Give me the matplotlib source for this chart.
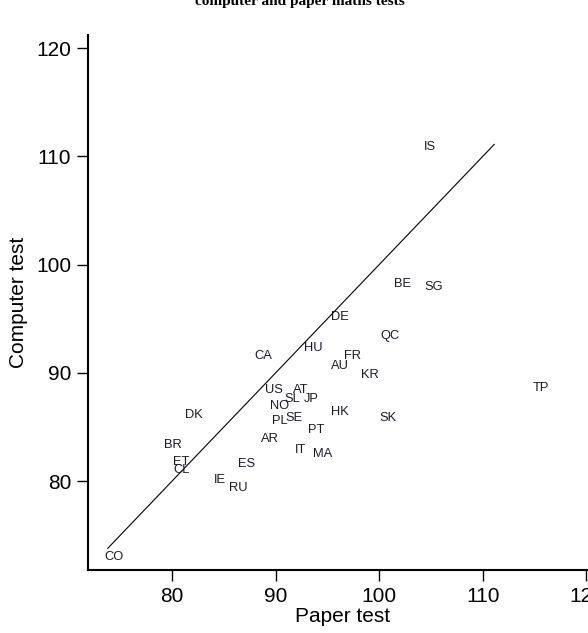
import matplotlib
matplotlib.use("Agg")
import matplotlib.pyplot as plt

# Country codes with paper-test (x) and computer-test (y) scores
countries = ["IS", "BE", "SG", "DE", "QC", "CA", "HU", "FR", "AU", "KR",
             "TP", "US", "AT", "SL", "JP", "NO", "DK", "HK", "SK", "PL",
             "SE", "PT", "AR", "BR", "IT", "MA", "ET", "ES", "CL", "IE",
             "RU", "CO"]
paper = [104.9, 102.2, 105.3, 96.2, 101.0, 88.8, 93.6, 97.4, 96.2, 99.1,
         115.6, 89.8, 92.4, 91.6, 93.4, 90.4, 82.1, 96.2, 100.8, 90.4,
         91.8, 93.9, 89.5, 80.1, 92.4, 94.5, 80.9, 87.2, 80.9, 84.6,
         86.4, 74.4]
computer = [110.9, 98.2, 97.9, 95.2, 93.4, 91.6, 92.3, 91.6, 90.6, 89.8,
            88.6, 88.4, 88.4, 87.6, 87.6, 86.9, 86.1, 86.4, 85.8, 85.6,
            85.8, 84.7, 83.9, 83.3, 82.9, 82.5, 81.8, 81.6, 81.0, 80.1,
            79.4, 73.0]

# 45-degree reference line
line_range = [73.8, 111.1]

x_ticks = [80, 90, 100, 110, 120]
y_ticks = [80, 90, 100, 110, 120]

fig = plt.figure(figsize=(5.88, 6.33), dpi=100)
ax = fig.add_axes([0.1497, 0.0995, 0.8653, 0.8452])

ax.plot(line_range, line_range, color="black", linewidth=0.8)

for name, x, y in zip(countries, paper, computer):
    ax.text(x, y, name, ha="center", va="center", fontsize=9.3,
            family="Liberation Sans", color="#1c1a24")

ax.set_xlim(71.9, 121.0)
ax.set_ylim(71.8, 121.2)
ax.set_xticks(x_ticks)
ax.set_yticks(y_ticks)
ax.tick_params(axis="both", direction="out", length=8, width=1.0,
               labelsize=15, pad=4)
for lab in ax.get_xticklabels() + ax.get_yticklabels():
    lab.set_family("Liberation Sans")

for side in ["top", "right"]:
    ax.spines[side].set_visible(False)
for side in ["left", "bottom"]:
    ax.spines[side].set_linewidth(1.5)

ax.set_xlabel("Paper test", fontsize=15, family="Liberation Sans", labelpad=1)
ax.set_ylabel("Computer test", fontsize=15, family="Liberation Sans", labelpad=6)

fig.text(0.51, 0.997, "computer and paper maths tests", ha="center",
         va="center", fontsize=11, fontweight="bold", family="Liberation Serif")

fig.savefig("out.png", dpi=100)
